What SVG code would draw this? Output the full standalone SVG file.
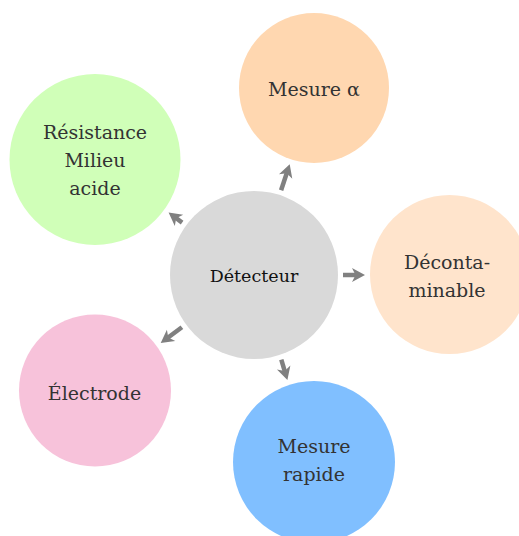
<svg xmlns="http://www.w3.org/2000/svg" width="519" height="536" viewBox="0 0 519 536">
  <style>
    .lbl { font-family: "DejaVu Serif", "Liberation Serif", serif; font-size: 19px; fill: #333333; text-anchor: middle; }
    .center { font-size: 17.5px; fill: #111111; }
    .conn { stroke: #808080; stroke-width: 4.5; fill: none; marker-end: url(#head); }
  </style>
  <defs>
    <marker id="head" markerUnits="userSpaceOnUse" markerWidth="16" markerHeight="16" refX="5" refY="0" viewBox="0 -8 14 16" orient="auto">
      <path d="M0,-7 L13,0 L0,7 L3.5,0 Z" fill="#808080"/>
    </marker>
  </defs>
  <rect width="519" height="536" fill="#ffffff"/>
  <g id="node-detecteur">
    <circle cx="254" cy="275" r="84" fill="#d9d9d9"/>
    <text class="lbl center" x="254" y="282">Détecteur</text>
  </g>
  <g id="node-mesure-alpha">
    <circle cx="314" cy="88" r="75" fill="#ffd7b0"/>
    <text class="lbl" x="314" y="96">Mesure α</text>
  </g>
  <g id="node-resistance">
    <circle cx="95" cy="159.5" r="85.5" fill="#d0ffb8"/>
    <text class="lbl" x="95" y="139">Résistance</text>
    <text class="lbl" x="95" y="167">Milieu</text>
    <text class="lbl" x="95" y="195">acide</text>
  </g>
  <g id="node-decontaminable">
    <circle cx="449.5" cy="274.5" r="79.5" fill="#ffe4cc"/>
    <text class="lbl" x="447" y="269">Déconta-</text>
    <text class="lbl" x="447" y="297">minable</text>
  </g>
  <g id="node-electrode">
    <circle cx="95" cy="390.5" r="76" fill="#f7c2da"/>
    <text class="lbl" x="94.5" y="400">Électrode</text>
  </g>
  <g id="node-mesure-rapide">
    <circle cx="314" cy="462" r="81" fill="#80bfff"/>
    <text class="lbl" x="314" y="453">Mesure</text>
    <text class="lbl" x="314" y="481">rapide</text>
  </g>
  <g id="connectors">
    <path class="conn" d="M281.1,190.3 L287.2,171.8"/>
    <path class="conn" d="M182.1,222.6 L175,217.3"/>
    <path class="conn" d="M343,275 L357,275"/>
    <path class="conn" d="M181.9,327.2 L167.1,338.3"/>
    <path class="conn" d="M281.3,359.7 L285.1,372.4"/>
  </g>
</svg>
